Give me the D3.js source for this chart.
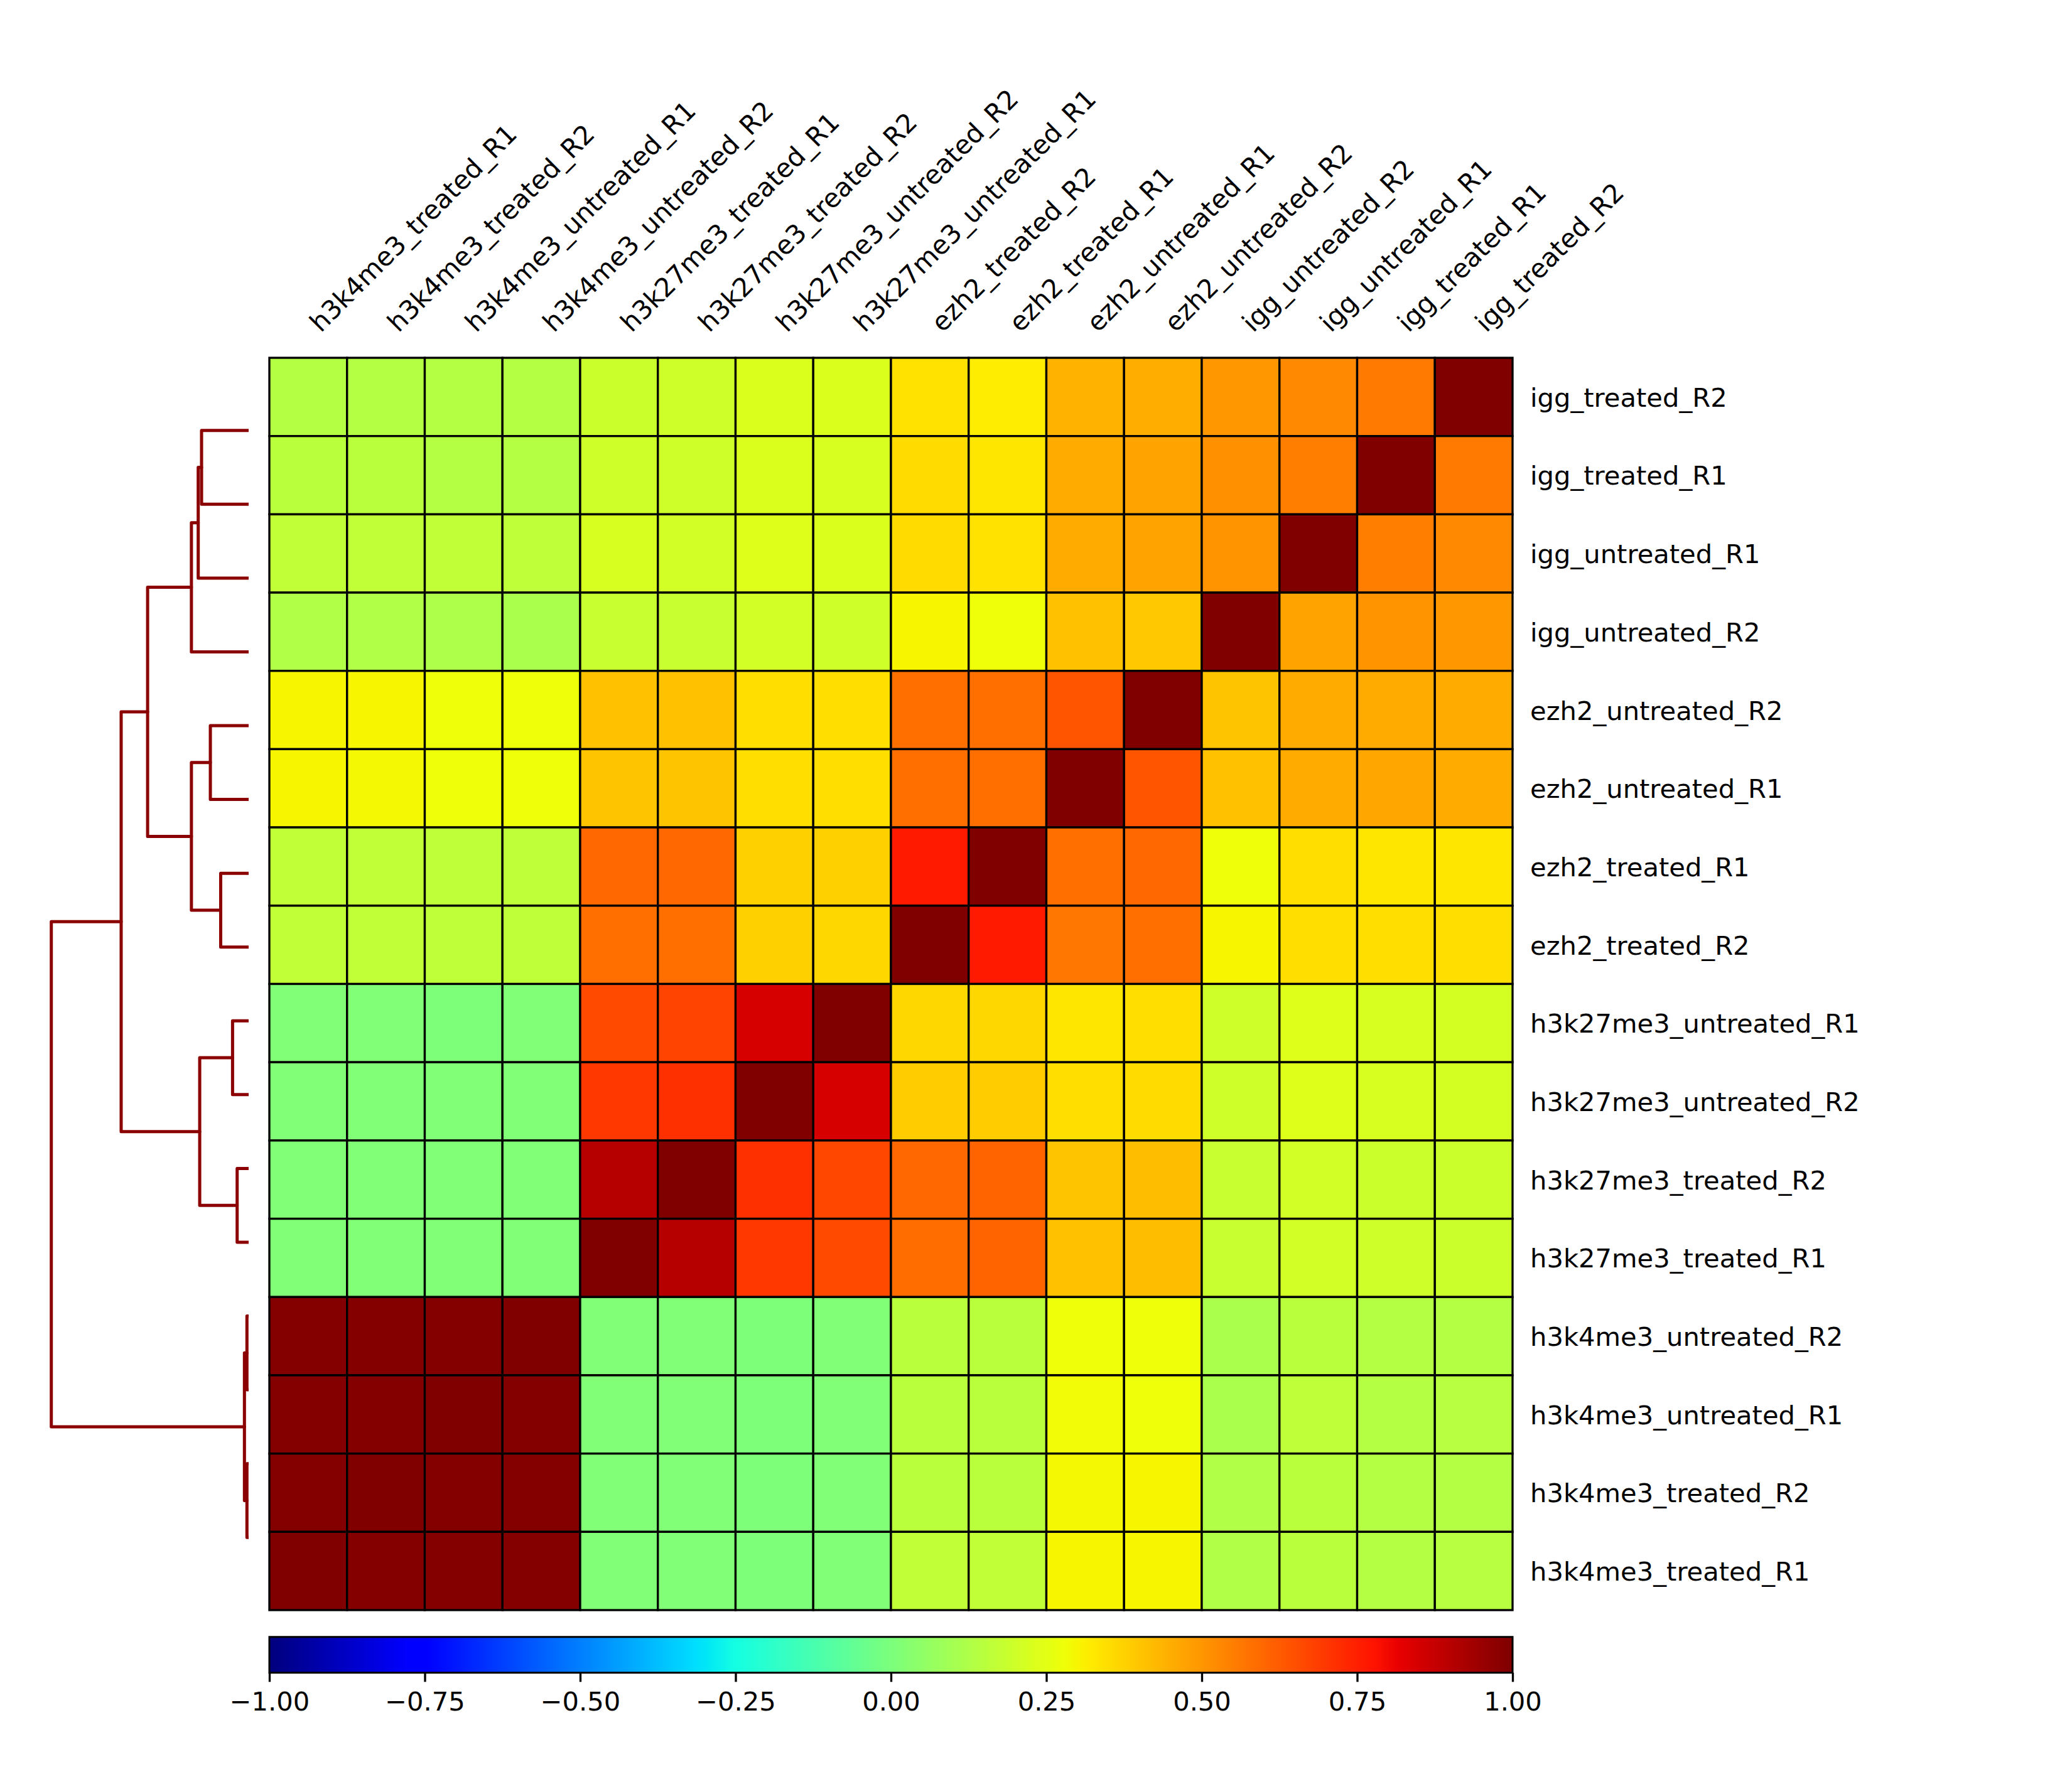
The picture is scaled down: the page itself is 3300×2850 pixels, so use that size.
<!DOCTYPE html>
<html><head><meta charset="utf-8">
<script src="https://cdn.jsdelivr.net/npm/d3@7"></script>
<style>body{margin:0;background:#fff} text{font-family:"DejaVu Sans",sans-serif;}</style>
</head><body><svg id="chart" width="3300" height="2850" xmlns="http://www.w3.org/2000/svg"></svg>
<script>
// ---------------- data ----------------
const rowLabels = ["igg_treated_R2","igg_treated_R1","igg_untreated_R1","igg_untreated_R2",
  "ezh2_untreated_R2","ezh2_untreated_R1","ezh2_treated_R1","ezh2_treated_R2",
  "h3k27me3_untreated_R1","h3k27me3_untreated_R2","h3k27me3_treated_R2","h3k27me3_treated_R1",
  "h3k4me3_untreated_R2","h3k4me3_untreated_R1","h3k4me3_treated_R2","h3k4me3_treated_R1"];
const colLabels = ["h3k4me3_treated_R1","h3k4me3_treated_R2","h3k4me3_untreated_R1","h3k4me3_untreated_R2",
  "h3k27me3_treated_R1","h3k27me3_treated_R2","h3k27me3_untreated_R2","h3k27me3_untreated_R1",
  "ezh2_treated_R2","ezh2_treated_R1","ezh2_untreated_R1","ezh2_untreated_R2",
  "igg_untreated_R2","igg_untreated_R1","igg_treated_R1","igg_treated_R2"];
// correlation values, one row per rowLabels entry (top to bottom), columns as colLabels
const corrValues = [
  [0.14,0.14,0.135,0.135, 0.19,0.20,0.23,0.23, 0.34,0.32,0.44,0.45, 0.495,0.525,0.56,1.00],
  [0.15,0.15,0.14,0.14, 0.20,0.20,0.23,0.22, 0.355,0.335,0.46,0.47, 0.51,0.55,1.00,0.56],
  [0.17,0.17,0.165,0.16, 0.22,0.21,0.24,0.23, 0.355,0.34,0.46,0.47, 0.50,1.00,0.55,0.53],
  [0.13,0.13,0.12,0.11, 0.18,0.18,0.21,0.20, 0.30,0.28,0.41,0.395, 1.00,0.475,0.505,0.495],
  [0.30,0.30,0.28,0.28, 0.41,0.41,0.35,0.35, 0.585,0.585,0.64,1.00, 0.405,0.455,0.455,0.455],
  [0.30,0.29,0.28,0.28, 0.405,0.405,0.345,0.345, 0.58,0.58,1.00,0.64, 0.41,0.455,0.465,0.455],
  [0.165,0.165,0.16,0.16, 0.60,0.60,0.375,0.375, 0.76,1.00,0.58,0.595, 0.28,0.345,0.33,0.335],
  [0.165,0.165,0.16,0.16, 0.585,0.585,0.38,0.36, 1.00,0.76,0.57,0.585, 0.30,0.35,0.345,0.35],
  [0.01,0.01,0.00,0.01, 0.66,0.675,0.845,1.00, 0.36,0.36,0.335,0.345, 0.20,0.235,0.225,0.215],
  [0.01,0.01,0.01,0.01, 0.70,0.715,1.00,0.845, 0.39,0.39,0.35,0.355, 0.20,0.235,0.225,0.215],
  [0.01,0.01,0.01,0.01, 0.90,1.00,0.715,0.665, 0.60,0.605,0.405,0.415, 0.18,0.21,0.195,0.195],
  [0.015,0.015,0.015,0.015, 1.00,0.90,0.70,0.66, 0.59,0.605,0.41,0.415, 0.185,0.21,0.20,0.195],
  [0.99,0.99,0.99,1.00, 0.015,0.01,0.00,0.01, 0.155,0.155,0.275,0.28, 0.11,0.15,0.135,0.135],
  [0.99,0.99,1.00,0.99, 0.015,0.01,0.00,0.01, 0.155,0.155,0.285,0.28, 0.11,0.16,0.14,0.145],
  [0.99,1.00,0.99,0.99, 0.015,0.01,0.00,0.01, 0.155,0.155,0.29,0.30, 0.125,0.155,0.14,0.14],
  [1.00,0.99,0.99,0.99, 0.015,0.01,0.00,0.01, 0.165,0.165,0.30,0.30, 0.125,0.155,0.14,0.145]
];
// hierarchical clustering (scipy-style linkage): leaf i = colLabels[i]; new cluster ids start at 16
const linkage = [
  [0,1,0.0086],[2,3,0.0086],[16,17,0.0213],
  [4,5,0.0582],[6,7,0.0815],[19,20,0.248],
  [8,9,0.1416],[10,11,0.194],[22,23,0.29],
  [14,15,0.2386],[13,25,0.2555],[12,26,0.29],
  [24,27,0.512],[21,28,0.646],[18,29,1.0]
];
const colorTicks = [-1.00,-0.75,-0.50,-0.25,0.00,0.25,0.50,0.75,1.00];

// ---------------- colormap (matplotlib jet) ----------------
const jetSeg = {
  r: [[0,0],[0.35,0],[0.66,1],[0.89,1],[1,0.5]],
  g: [[0,0],[0.125,0],[0.375,1],[0.64,1],[0.91,0],[1,0]],
  b: [[0,0.5],[0.11,1],[0.34,1],[0.65,0],[1,0]]
};
const chan = k => d3.scaleLinear().domain(jetSeg[k].map(d=>d[0])).range(jetSeg[k].map(d=>d[1])).clamp(true);
const jr = chan("r"), jg = chan("g"), jb = chan("b");
function jet(t){
  const i = Math.max(0, Math.min(255, Math.floor(t*256)));
  const u = i/255;
  return d3.rgb(Math.round(jr(u)*255), Math.round(jg(u)*255), Math.round(jb(u)*255)).formatHex();
}
const norm = d3.scaleLinear().domain([-1,1]).range([0,1]).clamp(true);
const colorOf = v => jet(norm(v));

// ---------------- layout ----------------
const W = 3300, H = 2850;
const svg = d3.select("#chart");
svg.append("rect").attr("width",W).attr("height",H).attr("fill","#fff");
const FS = 41.67;
const mat = {x0: 0.13*W, x1: 0.73*W, y0: (1-0.8)*H, y1: (1-0.1)*H};
const den = {x0: 0.02*W, x1: 0.12*W, y0: (1-0.78)*H, y1: (1-0.12)*H};
const cb  = {x0: 0.13*W, x1: 0.73*W, y0: (1-0.085)*H, y1: (1-0.065)*H};

// ---------------- heatmap ----------------
const xS = d3.scaleBand().domain(colLabels).range([mat.x0, mat.x1]);
const yS = d3.scaleBand().domain(rowLabels).range([mat.y0, mat.y1]);
const cells = [];
rowLabels.forEach((r,ri)=>colLabels.forEach((c,ci)=>cells.push({r,c,v:corrValues[ri][ci]})));
svg.append("g").selectAll("rect").data(cells).join("rect")
  .attr("x", d=>xS(d.c)).attr("y", d=>yS(d.r))
  .attr("width", xS.bandwidth()).attr("height", yS.bandwidth())
  .attr("fill", d=>colorOf(d.v)).attr("stroke","#000").attr("stroke-width",3.33);

// row labels (right)
const yAxis = d3.axisRight(yS).tickSize(0).tickPadding(28);
const gy = svg.append("g").attr("transform",`translate(${mat.x1},0)`).call(yAxis);
gy.select(".domain").remove();
gy.selectAll("text").attr("font-size",FS).attr("fill","#000").attr("dy","0.37em")
  .style("font-family","'DejaVu Sans',sans-serif");

// column labels (top, rotated)
svg.append("g").selectAll("text").data(colLabels).join("text")
  .attr("transform", d=>`translate(${xS(d)+xS.bandwidth()/2+20},${mat.y0-39}) rotate(-45)`)
  .attr("font-size",FS).attr("fill","#000").text(d=>d);

// ---------------- dendrogram ----------------
const nLeaf = colLabels.length;
const pos = d3.range(nLeaf).map(i=>5+10*i);
const hgt = d3.range(nLeaf).map(()=>0);
linkage.forEach(([a,b,h])=>{ pos.push((pos[a]+pos[b])/2); hgt.push(h); });
const dMax = d3.max(linkage, d=>d[2]);
const dx = d3.scaleLinear().domain([0, dMax*1.05]).range([den.x1, den.x0]);
const dy = d3.scaleLinear().domain([0, nLeaf*10]).range([den.y1, den.y0]);
svg.append("clipPath").attr("id","dclip").append("rect")
  .attr("x",den.x0).attr("y",den.y0).attr("width",den.x1-den.x0).attr("height",den.y1-den.y0);
const line = d3.line().x(d=>dx(d[0])).y(d=>dy(d[1]));
svg.append("g").attr("clip-path","url(#dclip)").selectAll("path").data(linkage).join("path")
  .attr("d", ([a,b,h])=>line([[hgt[a],pos[a]],[h,pos[a]],[h,pos[b]],[hgt[b],pos[b]]]))
  .attr("fill","none").attr("stroke","#8b0000").attr("stroke-width",5)
  .attr("stroke-linejoin","round").attr("stroke-linecap","round");

// ---------------- colorbar ----------------
const defs = svg.append("defs");
const grad = defs.append("linearGradient").attr("id","jetgrad").attr("x1","0").attr("x2","1").attr("y1","0").attr("y2","0");
d3.range(256).forEach(i=>{
  grad.append("stop").attr("offset", (i+0.5)/256).attr("stop-color", jet((i+0.5)/256));
});
svg.append("rect").attr("x",cb.x0).attr("y",cb.y0).attr("width",cb.x1-cb.x0).attr("height",cb.y1-cb.y0)
  .attr("fill","url(#jetgrad)").attr("stroke","#000").attr("stroke-width",3);
const cS = d3.scaleLinear().domain([-1,1]).range([cb.x0, cb.x1]);
const cAxis = d3.axisBottom(cS).tickValues(colorTicks).tickFormat(d3.format(".2f")).tickSize(14.6).tickPadding(16);
const gc = svg.append("g").attr("transform",`translate(0,${cb.y1})`).call(cAxis);
gc.select(".domain").remove();
gc.selectAll(".tick line").attr("stroke","#000").attr("stroke-width",3.33);
gc.selectAll("text").attr("font-size",FS).attr("fill","#000").style("font-family","'DejaVu Sans',sans-serif");
</script></body></html>
